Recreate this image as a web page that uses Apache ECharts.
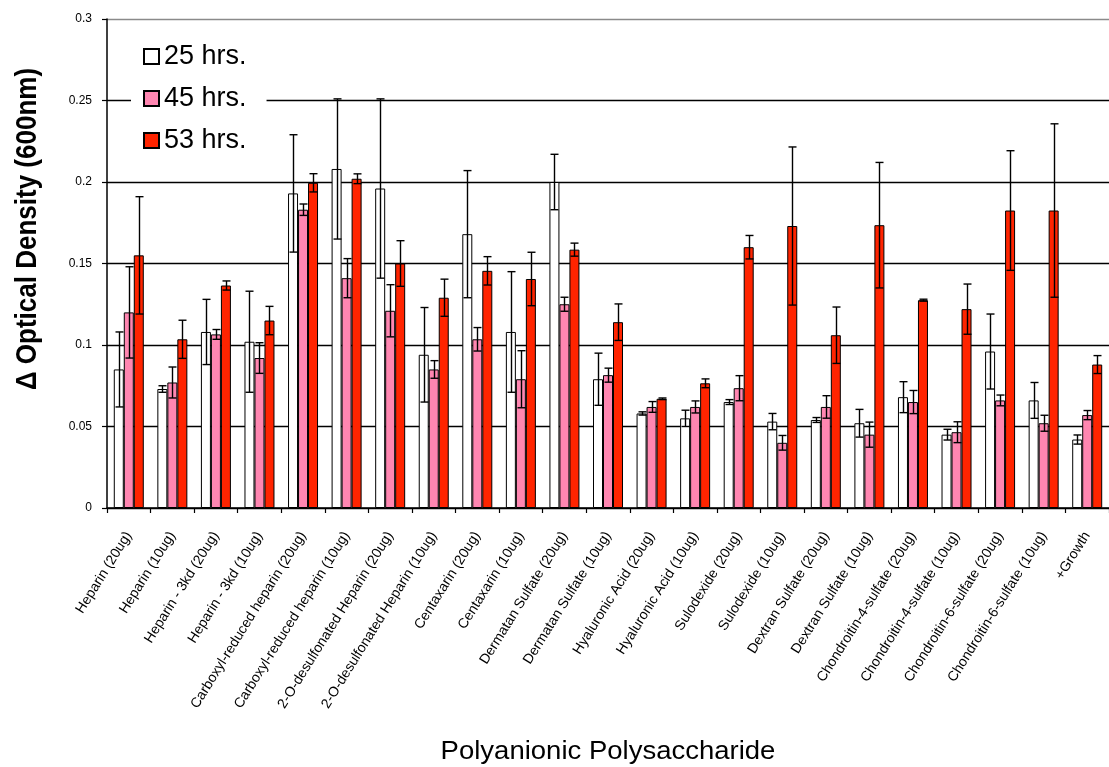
<!DOCTYPE html>
<html>
<head>
<meta charset="utf-8">
<script src="https://cdn.jsdelivr.net/npm/echarts@6/dist/echarts.min.js"></script>
<style>
  html, body { margin: 0; padding: 0; background: #fff; }
  #chart { width: 1109px; height: 767px; }
</style>
</head>
<body>
<div id="chart"></div>
<script>
// Growth (change in OD at 600 nm) with each polyanionic polysaccharide, three time points
const categories = [
  'Heparin (20ug)', 'Heparin (10ug)', 'Heparin - 3kd (20ug)', 'Heparin - 3kd (10ug)',
  'Carboxyl-reduced heparin (20ug)', 'Carboxyl-reduced heparin (10ug)',
  '2-O-desulfonated Heparin (20ug)', '2-O-desulfonated Heparin (10ug)',
  'Centaxarin (20ug)', 'Centaxarin (10ug)', 'Dermatan Sulfate (20ug)', 'Dermatan Sulfate (10ug)',
  'Hyaluronic Acid (20ug)', 'Hyaluronic Acid (10ug)', 'Sulodexide (20ug)', 'Sulodexide (10ug)',
  'Dextran Sulfate (20ug)', 'Dextran Sulfate (10ug)', 'Chondroitin-4-sulfate (20ug)',
  'Chondroitin-4-sulfate (10ug)', 'Chondroitin-6-sulfate (20ug)', 'Chondroitin-6-sulfate (10ug)',
  '+Growth'
];

const seriesNames = ['25 hrs.', '45 hrs.', '53 hrs.'];

const od25 = [0.085, 0.073, 0.108, 0.102, 0.193, 0.208, 0.196, 0.094, 0.168, 0.108, 0.200, 0.079,
              0.058, 0.055, 0.065, 0.053, 0.054, 0.052, 0.068, 0.045, 0.096, 0.066, 0.042];
const err25 = [0.023, 0.002, 0.020, 0.031, 0.036, 0.043, 0.055, 0.029, 0.039, 0.037, 0.017, 0.016,
               0.001, 0.005, 0.0015, 0.005, 0.0015, 0.0085, 0.0095, 0.0033, 0.023, 0.011, 0.0028];

const od45 = [0.120, 0.077, 0.1065, 0.092, 0.183, 0.141, 0.121, 0.085, 0.1035, 0.079, 0.125, 0.0815,
              0.062, 0.062, 0.0735, 0.040, 0.062, 0.045, 0.065, 0.0465, 0.066, 0.052, 0.057];
const err45 = [0.028, 0.0095, 0.003, 0.0094, 0.0035, 0.012, 0.016, 0.0054, 0.0072, 0.0175, 0.0043, 0.0043,
               0.0033, 0.0037, 0.0077, 0.0045, 0.0069, 0.0077, 0.0071, 0.0064, 0.0033, 0.0049, 0.0028];

const od53 = [0.155, 0.1035, 0.1365, 0.115, 0.1995, 0.202, 0.150, 0.129, 0.1455, 0.1405, 0.1585, 0.114,
              0.067, 0.0765, 0.160, 0.173, 0.106, 0.1735, 0.1275, 0.122, 0.1825, 0.1825, 0.088];
const err53 = [0.036, 0.0117, 0.0028, 0.0087, 0.0056, 0.003, 0.014, 0.0114, 0.0087, 0.0164, 0.004, 0.0112,
               0.0005, 0.0027, 0.0072, 0.0485, 0.0173, 0.0385, 0.0006, 0.0154, 0.0367, 0.0532, 0.0055];

const yTicks = [0, 0.05, 0.1, 0.15, 0.2, 0.25, 0.3];

const FONT = '"Liberation Sans", Arial, Helvetica, sans-serif';
const colors = ['#FFFFFF', '#FF86B1', '#FF2400'];
const BAR_W = 10;
const values = [od25, od45, od53];
const errors = [err25, err45, err53];

const chart = echarts.init(document.getElementById('chart'), null, { renderer: 'canvas' });

const barSeries = values.map((vals, s) => ({
  name: seriesNames[s],
  type: 'bar',
  data: vals,
  barWidth: BAR_W,
  barGap: '0%',
  itemStyle: { color: colors[s], borderColor: '#000', borderWidth: 1 },
  z: 2,
  animation: false
}));

// Symmetric error bars drawn over each bar, shifted to that bar's slot in the group
const errSeries = values.map((vals, s) => ({
  type: 'custom',
  data: vals.map((v, i) => [i, v, errors[s][i]]),
  encode: { x: 0, y: 1 },
  z: 5,
  silent: true,
  animation: false,
  renderItem: function (params, api) {
    const i = api.value(0), v = api.value(1), e = api.value(2);
    const offset = (s - 1) * BAR_W;
    const hi = api.coord([i, v + e]);
    const lo = api.coord([i, v - e]);
    const x = Math.round(hi[0] + offset) + 0.5;
    const cap = 4;
    const st = { stroke: '#000', lineWidth: 1.4 };
    return {
      type: 'group',
      children: [
        { type: 'line', shape: { x1: x, y1: hi[1], x2: x, y2: lo[1] }, style: st },
        { type: 'line', shape: { x1: x - cap, y1: hi[1], x2: x + cap, y2: hi[1] }, style: st },
        { type: 'line', shape: { x1: x - cap, y1: lo[1], x2: x + cap, y2: lo[1] }, style: st }
      ]
    };
  }
}));

chart.setOption({
  animation: false,
  backgroundColor: '#fff',
  textStyle: { fontFamily: FONT, color: '#000' },
  grid: { left: 107, right: -10, top: 19, bottom: 259, containLabel: false },
  legend: {
    data: seriesNames,
    orient: 'vertical',
    left: 131,
    top: 38,
    padding: [5, 20, 5, 12],
    itemGap: 15,
    itemWidth: 15,
    itemHeight: 15,
    backgroundColor: '#fff',
    icon: 'rect',
    textStyle: { fontFamily: FONT, fontSize: 27, color: '#000' },
    z: 10
  },
  xAxis: {
    type: 'category',
    data: categories,
    axisLine: { lineStyle: { color: '#000', width: 1.5 } },
    axisTick: { show: true, length: 5, lineStyle: { color: '#000', width: 1.2 } },
    axisLabel: {
      interval: 0,
      rotate: 58,
      margin: 25,
      fontSize: 14,
      fontFamily: FONT,
      color: '#000'
    },
    splitLine: { show: false }
  },
  yAxis: {
    type: 'value',
    min: yTicks[0],
    max: yTicks[yTicks.length - 1],
    interval: 0.05,
    axisLine: { show: true, lineStyle: { color: '#000', width: 1.5 } },
    axisTick: { show: true, length: 5, lineStyle: { color: '#000', width: 1.2 } },
    axisLabel: {
      margin: 15,
      fontSize: 12,
      fontFamily: FONT,
      color: '#000',
      formatter: v => String(+v.toFixed(2))
    },
    splitLine: {
      show: true,
      lineStyle: { color: ['#000', '#000', '#000', '#000', '#000', '#000', '#8a8a8a'], width: 1.4 }
    }
  },
  graphic: [
    {
      type: 'text',
      x: 608,
      y: 752,
      scaleX: 1.1,
      style: {
        text: 'Polyanionic Polysaccharide',
        font: '25px ' + FONT,
        fill: '#000',
        textAlign: 'center',
        textVerticalAlign: 'middle'
      },
      z: 20
    },
    {
      type: 'text',
      x: 28,
      y: 229,
      rotation: Math.PI / 2,
      scaleY: 1.1,
      style: {
        text: '\u0394 Optical Density (600nm)',
        font: 'bold 26px ' + FONT,
        fill: '#000',
        textAlign: 'center',
        textVerticalAlign: 'middle'
      },
      z: 20
    }
  ],
  series: barSeries.concat(errSeries)
});
</script>
</body>
</html>
